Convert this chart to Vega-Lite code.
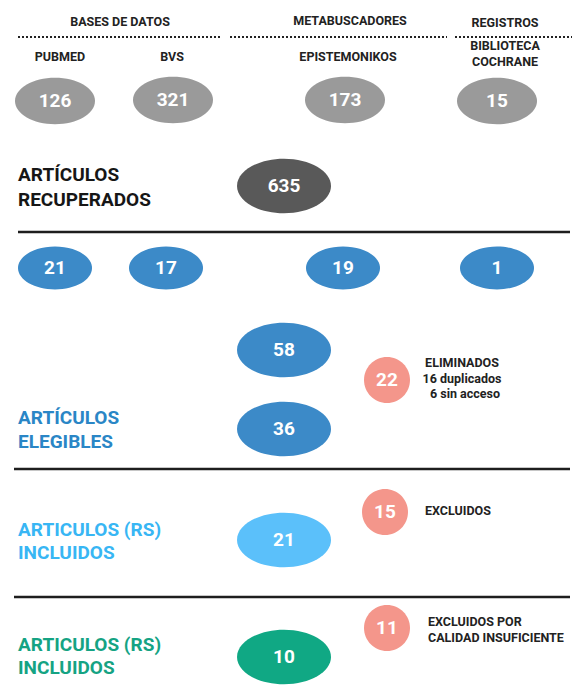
{
  "$schema": "https://vega.github.io/schema/vega-lite/v6.json",
  "width": 574,
  "height": 690,
  "padding": 0,
  "autosize": {"type": "none"},
  "background": "white",
  "config": {"view": {"stroke": null}},
  "datasets": {
    "nodos": [
      {"n": "126", "x": 55, "y": 101, "etapa": "fuente"},
      {"n": "321", "x": 173, "y": 100, "etapa": "fuente"},
      {"n": "173", "x": 345, "y": 100, "etapa": "fuente"},
      {"n": "15", "x": 497, "y": 101, "etapa": "fuente"},
      {"n": "635", "x": 284, "y": 186, "etapa": "recuperados"},
      {"n": "21", "x": 55, "y": 268, "etapa": "cribado"},
      {"n": "17", "x": 166, "y": 268, "etapa": "cribado"},
      {"n": "19", "x": 343, "y": 268, "etapa": "cribado"},
      {"n": "1", "x": 497, "y": 268, "etapa": "cribado"},
      {"n": "58", "x": 284, "y": 350, "etapa": "elegibles"},
      {"n": "36", "x": 284, "y": 429, "etapa": "elegibles"},
      {"n": "21", "x": 284, "y": 540, "etapa": "rs"},
      {"n": "10", "x": 284, "y": 657, "etapa": "final"},
      {"n": "22", "x": 387, "y": 380, "etapa": "excluidos"},
      {"n": "15", "x": 385, "y": 512, "etapa": "excluidos"},
      {"n": "11", "x": 387, "y": 628, "etapa": "excluidos"}
    ],
    "cabeceras": [
      {"t": "BASES DE DATOS", "x": 120, "y": 22},
      {"t": "METABUSCADORES", "x": 350, "y": 21},
      {"t": "REGISTROS", "x": 505, "y": 23},
      {"t": "PUBMED", "x": 60, "y": 57},
      {"t": "BVS", "x": 172, "y": 57},
      {"t": "EPISTEMONIKOS", "x": 348, "y": 57},
      {"t": "BIBLIOTECA", "x": 505, "y": 46},
      {"t": "COCHRANE", "x": 505, "y": 62}
    ],
    "etiquetas": [
      {"t": "ARTÍCULOS", "x": 18, "y": 175, "etapa": "recuperados"},
      {"t": "RECUPERADOS", "x": 18, "y": 200, "etapa": "recuperados"},
      {"t": "ARTÍCULOS", "x": 18, "y": 418, "etapa": "elegibles"},
      {"t": "ELEGIBLES", "x": 18, "y": 442, "etapa": "elegibles"},
      {"t": "ARTICULOS (RS)", "x": 18, "y": 530, "etapa": "rs"},
      {"t": "INCLUIDOS", "x": 18, "y": 553, "etapa": "rs"},
      {"t": "ARTICULOS (RS)", "x": 18, "y": 645, "etapa": "final"},
      {"t": "INCLUIDOS", "x": 18, "y": 668, "etapa": "final"}
    ],
    "notas": [
      {"t": "ELIMINADOS", "x": 462, "y": 363, "a": "center"},
      {"t": "16 duplicados", "x": 462, "y": 379, "a": "center"},
      {"t": "6 sin acceso", "x": 465, "y": 394, "a": "center"},
      {"t": "EXCLUIDOS", "x": 425, "y": 511, "a": "left"},
      {"t": "EXCLUIDOS POR", "x": 428, "y": 622, "a": "left"},
      {"t": "CALIDAD INSUFICIENTE", "x": 428, "y": 638, "a": "left"}
    ],
    "lineas": [
      {"x": 18, "x2": 222, "y": 37, "estilo": "punteada"},
      {"x": 230, "x2": 447, "y": 37, "estilo": "punteada"},
      {"x": 455, "x2": 572, "y": 37, "estilo": "punteada"},
      {"x": 18, "x2": 570, "y": 232, "estilo": "solida"},
      {"x": 14, "x2": 570, "y": 469, "estilo": "solida"},
      {"x": 14, "x2": 570, "y": 597, "estilo": "solida"}
    ]
  },
  "encoding": {
    "x": {"field": "x", "type": "quantitative", "axis": null, "scale": {"domain": [0, 574], "nice": false, "zero": false}},
    "y": {"field": "y", "type": "quantitative", "axis": null, "scale": {"domain": [0, 690], "nice": false, "zero": false, "reverse": true}}
  },
  "layer": [
    {
      "data": {"name": "lineas"},
      "transform": [{"filter": "datum.estilo === 'solida'"}],
      "mark": {"type": "rule", "color": "#1e1e1e", "strokeWidth": 2.5},
      "encoding": {"x2": {"field": "x2"}}
    },
    {
      "data": {"name": "lineas"},
      "transform": [{"filter": "datum.estilo === 'punteada'"}],
      "mark": {"type": "rule", "color": "#222222", "strokeWidth": 2, "strokeDash": [2, 2]},
      "encoding": {"x2": {"field": "x2"}}
    },
    {
      "data": {"name": "nodos"},
      "transform": [{"filter": "datum.etapa !== 'excluidos'"}],
      "mark": {"type": "point", "filled": true, "opacity": 1, "shape": "M -1 0 A 1 0.58 0 1 0 1 0 A 1 0.58 0 1 0 -1 0 Z", "strokeWidth": 0},
      "encoding": {
        "color": {"field": "etapa", "type": "nominal", "legend": null,
          "scale": {"domain": ["fuente", "recuperados", "cribado", "elegibles", "rs", "final"],
                    "range": ["#9a9a9a", "#595959", "#3c8ac8", "#3c8ac8", "#5bc0fa", "#10a884"]}},
        "size": {"field": "etapa", "type": "nominal", "legend": null,
          "scale": {"type": "ordinal", "domain": ["fuente", "recuperados", "cribado", "elegibles", "rs", "final"],
                    "range": [6400, 8836, 5476, 8836, 8836, 8836]}}
      }
    },
    {
      "data": {"name": "nodos"},
      "transform": [{"filter": "datum.etapa === 'excluidos'"}],
      "mark": {"type": "point", "filled": true, "opacity": 1, "shape": "M -1 0 A 1 1 0 1 0 1 0 A 1 1 0 1 0 -1 0 Z", "size": 2116, "color": "#f4968b", "strokeWidth": 0}
    },
    {
      "data": {"name": "nodos"},
      "mark": {"type": "text", "color": "white", "font": "Roboto", "fontWeight": "bold", "fontSize": 19, "align": "center", "baseline": "middle"},
      "encoding": {"text": {"field": "n"}}
    },
    {
      "data": {"name": "cabeceras"},
      "mark": {"type": "text", "color": "#222222", "font": "Roboto", "fontWeight": "bold", "fontSize": 12.5, "align": "center", "baseline": "middle"},
      "encoding": {"text": {"field": "t"}}
    },
    {
      "data": {"name": "notas"},
      "transform": [{"filter": "datum.a === 'center'"}],
      "mark": {"type": "text", "color": "#222222", "font": "Roboto", "fontWeight": "bold", "fontSize": 12.5, "align": "center", "baseline": "middle"},
      "encoding": {"text": {"field": "t"}}
    },
    {
      "data": {"name": "notas"},
      "transform": [{"filter": "datum.a === 'left'"}],
      "mark": {"type": "text", "color": "#222222", "font": "Roboto", "fontWeight": "bold", "fontSize": 12.5, "align": "left", "baseline": "middle"},
      "encoding": {"text": {"field": "t"}}
    },
    {
      "data": {"name": "etiquetas"},
      "mark": {"type": "text", "font": "Roboto", "fontWeight": "bold", "fontSize": 19, "align": "left", "baseline": "middle"},
      "encoding": {
        "text": {"field": "t"},
        "color": {"field": "etapa", "type": "nominal", "legend": null,
          "scale": {"domain": ["recuperados", "elegibles", "rs", "final"],
                    "range": ["#161616", "#2a86c6", "#38b6f4", "#15a383"]}}
      }
    }
  ],
  "resolve": {"scale": {"color": "independent", "size": "independent"}}
}
